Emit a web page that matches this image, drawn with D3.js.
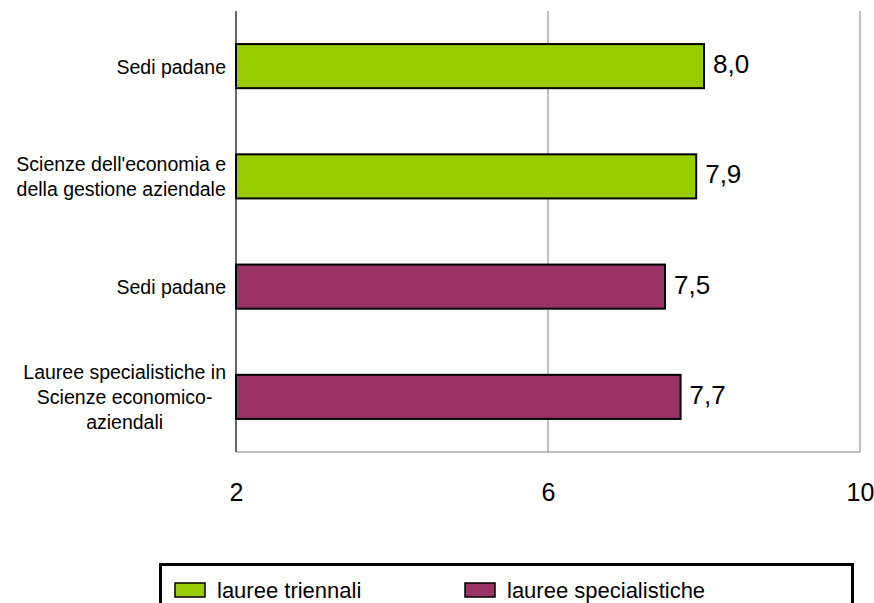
<!DOCTYPE html>
<html>
<head>
<meta charset="utf-8">
<script src="https://cdn.jsdelivr.net/npm/d3@7/dist/d3.min.js"></script>
<style>
    body { margin: 0; background: #fff; }
    svg { display: block; font-family: "Liberation Sans", Arial, sans-serif; }
</style>
</head>
<body>
<div class="bar-chart"></div>
<script>
    // category labels (one entry per bar, split in lines)
    const categoryLines = [
        ["Sedi padane"],
        ["Scienze dell'economia e", "della gestione aziendale"],
        ["Sedi padane"],
        ["Lauree specialistiche in", "Scienze economico-", "aziendali"]
    ];
    const values = [8.0, 7.9, 7.5, 7.7];
    const seriesOfBar = ["triennali", "triennali", "specialistiche", "specialistiche"];
    const seriesNames = ["triennali", "specialistiche"];
    const seriesLabels = ["lauree triennali", "lauree specialistiche"];
    const xTicks = [2, 6, 10];
    const xDomain = [2, 10];

    const COLORS = {triennali: "#99cc00", specialistiche: "#993366"};

    let svg = d3.select(".bar-chart").append("svg")
        .attr("width", 874)
        .attr("height", 603);

    let margin = {top: 11, left: 236, right: 14, bottom: 151},
        width = 874 - margin.left - margin.right,
        height = 603 - margin.top - margin.bottom,
        g = svg.append("g").attr("transform", "translate(" + margin.left + "," + margin.top + ")");

    let x = d3.scaleLinear().domain(xDomain).range([0, width]);

    let y = d3.scaleBand()
        .domain(d3.range(values.length))
        .range([0, height])
        .paddingInner(0.6)
        .paddingOuter(0.3);

    // gridlines (gray) at inner/right ticks
    g.append("g")
        .attr("class", "grid")
        .selectAll("line")
        .data(xTicks.filter(d => d !== xDomain[0]))
        .enter().append("line")
        .attr("x1", d => x(d)).attr("x2", d => x(d))
        .attr("y1", 0).attr("y2", height)
        .attr("stroke", "#808080")
        .attr("stroke-width", 1);

    // bottom border
    g.append("line")
        .attr("x1", 0).attr("x2", x(xDomain[1]))
        .attr("y1", height).attr("y2", height)
        .attr("stroke", "#808080");

    // bars
    g.selectAll(".bar")
        .data(values)
        .enter().append("rect")
        .attr("class", "bar")
        .attr("x", x(xDomain[0]))
        .attr("y", (d, i) => y(i))
        .attr("width", d => x(d) - x(xDomain[0]))
        .attr("height", y.bandwidth())
        .attr("fill", (d, i) => COLORS[seriesOfBar[i]])
        .attr("stroke", "#000")
        .attr("stroke-width", 2);

    // value labels
    g.selectAll(".value")
        .data(values)
        .enter().append("text")
        .attr("class", "value")
        .attr("x", d => x(d) + 9)
        .attr("y", (d, i) => y(i) + y.bandwidth() / 2 + 7)
        .attr("font-size", "26px")
        .attr("fill", "#000")
        .text(d => d3.format(".1f")(d).replace(".", ","));

    // left axis line
    g.append("line")
        .attr("x1", 0).attr("x2", 0)
        .attr("y1", 0).attr("y2", height)
        .attr("stroke", "#000")
        .attr("stroke-width", 1.2);

    // category labels, block centred, widest line ending 10px left of axis
    let labelGroups = g.selectAll(".cat")
        .data(categoryLines)
        .enter().append("text")
        .attr("class", "cat")
        .attr("font-size", "19.5px")
        .attr("fill", "#000")
        .attr("text-anchor", "middle");

    labelGroups.each(function (lines, i) {
        let t = d3.select(this);
        let cy = y(i) + y.bandwidth() / 2;
        let lineH = 25;
        let top = cy - (lines.length - 1) * lineH / 2;
        lines.forEach((l, k) => {
            t.append("tspan")
                .attr("y", top + k * lineH + 7.5)
                .text(l);
        });
        let maxW = 0;
        t.selectAll("tspan").each(function () {
            maxW = Math.max(maxW, this.getComputedTextLength());
        });
        t.selectAll("tspan").attr("x", -10 - maxW / 2);
    });

    // x axis tick labels
    let xAxis = g.append("g")
        .attr("class", "x-axis")
        .attr("transform", "translate(0," + height + ")")
        .call(d3.axisBottom(x).tickValues(xTicks).tickSize(0).tickPadding(0).tickFormat(d3.format("d")));
    xAxis.select(".domain").remove();
    xAxis.selectAll("text")
        .attr("font-size", "25px")
        .attr("font-family", "'Liberation Sans', Arial, sans-serif")
        .attr("fill", "#000")
        .attr("dy", null)
        .attr("y", 49);

    // legend (box runs past the bottom edge, as in the reference)
    let legend = svg.append("g").attr("class", "legend");
    legend.append("rect")
        .attr("x", 160.5).attr("y", 564.5)
        .attr("width", 692).attr("height", 60)
        .attr("fill", "#fff")
        .attr("stroke", "#000")
        .attr("stroke-width", 3);

    let legendX = d3.scaleOrdinal().domain(seriesNames).range([175, 465]);

    let items = legend.selectAll(".item")
        .data(seriesNames)
        .enter().append("g")
        .attr("class", "item")
        .attr("transform", d => "translate(" + legendX(d) + ",583)");
    items.append("rect")
        .attr("width", 30).attr("height", 14)
        .attr("fill", d => COLORS[d])
        .attr("stroke", "#000")
        .attr("stroke-width", 1.5);
    items.append("text")
        .attr("x", 42).attr("y", 15)
        .attr("font-size", "22px")
        .attr("fill", "#000")
        .text((d, i) => seriesLabels[i]);
</script>
</body>
</html>
